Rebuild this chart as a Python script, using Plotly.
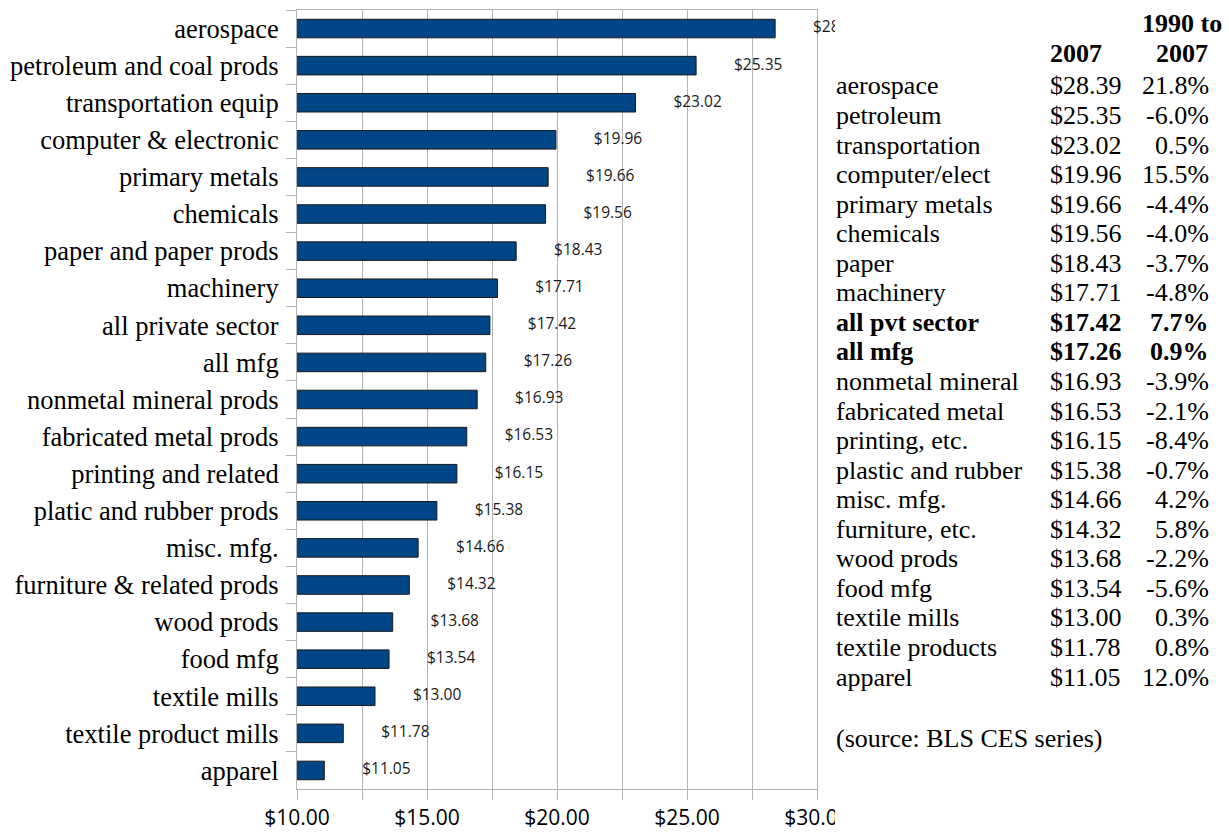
import plotly.graph_objects as go

# ---------------- data ----------------
categories = ["aerospace", "petroleum and coal prods", "transportation equip",
              "computer & electronic", "primary metals", "chemicals",
              "paper and paper prods", "machinery", "all private sector", "all mfg",
              "nonmetal mineral prods", "fabricated metal prods", "printing and related",
              "platic and rubber prods", "misc. mfg.", "furniture & related prods",
              "wood prods", "food mfg", "textile mills", "textile product mills", "apparel"]
wages_2007 = [28.39, 25.35, 23.02, 19.96, 19.66, 19.56, 18.43, 17.71, 17.42, 17.26,
              16.93, 16.53, 16.15, 15.38, 14.66, 14.32, 13.68, 13.54, 13.00, 11.78, 11.05]

table_names = ["aerospace", "petroleum", "transportation", "computer/elect", "primary metals",
               "chemicals", "paper", "machinery", "all pvt sector", "all mfg",
               "nonmetal mineral", "fabricated metal", "printing, etc.", "plastic and rubber",
               "misc. mfg.", "furniture, etc.", "wood prods", "food mfg", "textile mills",
               "textile products", "apparel"]
table_wages = wages_2007
table_change = [21.8, -6.0, 0.5, 15.5, -4.4, -4.0, -3.7, -4.8, 7.7, 0.9, -3.9, -2.1,
                -8.4, -0.7, 4.2, 5.8, -2.2, -5.6, 0.3, 0.8, 12.0]
bold_rows = ["all pvt sector", "all mfg"]
x_ticks = [10, 15, 20, 25, 30]
source_note = "(source: BLS CES series)"

# ---------------- geometry helpers ----------------
W, H = 1229, 833
ML, MR, MT, MB = 297, 0, 10, 44
PW, PH = W - ML - MR, H - MT - MB
plot_right = 817
clip_right = 835
X0, X1 = 10, 30


def px(x):
    return (x - ML) / PW


def py(y):
    return (H - MB - y) / PH


grid = "#b3b3b3"
serif = "Liberation Serif"
sans = "Open Sans"

fig = go.Figure()

fig.add_trace(go.Bar(
    y=categories, x=wages_2007, orientation="h",
    marker=dict(color="#004586", line=dict(color="#1a1a1a", width=1)),
    xaxis="x", yaxis="y", hoverinfo="skip", showlegend=False,
))

# data labels on a wider (invisible) axis so they are clipped like the original
fig.add_trace(go.Scatter(
    y=categories, x=wages_2007, mode="markers+text",
    marker=dict(size=59, color="rgba(0,0,0,0)", line=dict(width=0)),
    texttemplate="$%{x:.2f}", textposition="middle right",
    textfont=dict(family=sans, size=15.5, color="#1a1a1a"),
    cliponaxis=True, xaxis="x2", yaxis="y", hoverinfo="skip", showlegend=False,
))

x_dom = [0, px(plot_right)]
x2_dom = [0, px(clip_right)]
x2_max = X0 + (X1 - X0) * (clip_right - ML) / (plot_right - ML)

fig.update_layout(
    width=W, height=H, template="none",
    margin=dict(l=ML, r=MR, t=MT, b=MB, pad=0),
    paper_bgcolor="white", plot_bgcolor="rgba(0,0,0,0)",
    bargap=0.5,
    xaxis=dict(domain=x_dom, range=[X0, X1], tickvals=x_ticks, tickformat="$.2f",
               showgrid=True, gridcolor=grid, gridwidth=1,
               showline=True, linecolor=grid, linewidth=1, mirror=True,
               ticks="outside", ticklen=10, tickcolor=grid, tickwidth=1,
               minor=dict(dtick=2.5, tick0=10, showgrid=True, gridcolor=grid,
                          ticks="outside", ticklen=10, tickcolor=grid),
               tickfont=dict(family=sans, size=21, color="#000"),
               zeroline=False, fixedrange=True),
    xaxis2=dict(domain=x2_dom, range=[X0, x2_max], anchor="y", visible=False,
                showgrid=False, zeroline=False),
    yaxis=dict(type="category", categoryorder="array", categoryarray=categories,
               range=[len(categories) - 0.5, -0.5], domain=[0, 1],
               showline=True, linecolor=grid, linewidth=1, mirror=True,
               ticks="outside", ticklen=10, tickcolor=grid, tickson="boundaries",
               showgrid=False, ticklabelstandoff=12,
               tickfont=dict(family=serif, size=26.5, color="#000"), zeroline=False),
)

# white mask to clip the last x tick label at the chart object's edge
fig.add_shape(type="rect", xref="paper", yref="paper",
              x0=px(clip_right), x1=px(clip_right + 40), y0=py(H), y1=py(H - MB + 6),
              fillcolor="white", line=dict(width=0), layer="above")

# ---------------- table ----------------
FS = 26
name_x, wage_x, pct_x, head2_cx = 835, 1049, 1210, 1182
row0, row_step = 94.8, 29.55
mid_off = 8.8


def add_text(text, x, base, anchor, bold=False):
    t = f"<b>{text}</b>" if bold else text
    fig.add_annotation(text=t, x=px(x), y=py(base - mid_off), xref="paper", yref="paper",
                       xanchor=anchor, yanchor="middle", showarrow=False,
                       font=dict(family=serif, size=FS, color="#000"), borderpad=0)


add_text("1990 to", head2_cx, 32, "center", bold=True)
add_text("2007", head2_cx, 62, "center", bold=True)
add_text("2007", wage_x, 62, "left", bold=True)

for i, (n, w, c) in enumerate(zip(table_names, table_wages, table_change)):
    b = row0 + i * row_step
    bold = n in bold_rows
    add_text(n, name_x, b, "left", bold)
    add_text(f"${w:.2f}", wage_x, b, "left", bold)
    add_text(f"{c:.1f}%", pct_x, b, "right", bold)

add_text(source_note, name_x, row0 + (len(table_names) - 1) * row_step + 61, "left")

fig.write_html("out.html")
